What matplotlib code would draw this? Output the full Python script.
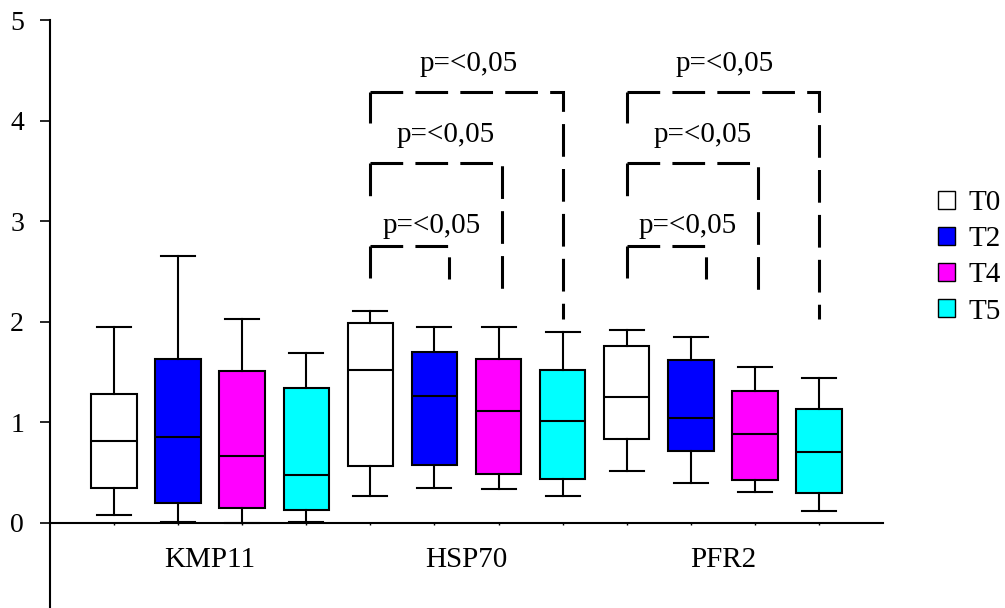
import numpy as np
import matplotlib
matplotlib.use('Agg')
import matplotlib.pyplot as plt
from matplotlib.patches import Patch

plt.rcParams['font.family'] = ['Liberation Serif', 'DejaVu Serif']

# data
groups = ['KMP11', 'HSP70', 'PFR2']
series = ['T0', 'T2', 'T4', 'T5']
colors = ['#FFFFFF', '#0000FF', '#FF00FF', '#00FFFF']

whis_lo = [[0.08, 0.01, 0.00, 0.01],
           [0.27, 0.35, 0.34, 0.27],
           [0.52, 0.40, 0.31, 0.12]]
q1 = [[0.35, 0.20, 0.15, 0.13],
      [0.57, 0.58, 0.49, 0.44],
      [0.83, 0.72, 0.43, 0.30]]
med = [[0.82, 0.85, 0.67, 0.48],
       [1.52, 1.26, 1.11, 1.01],
       [1.25, 1.04, 0.88, 0.71]]
q3 = [[1.28, 1.63, 1.51, 1.34],
      [1.99, 1.70, 1.63, 1.52],
      [1.76, 1.62, 1.31, 1.13]]
whis_hi = [[1.95, 2.65, 2.03, 1.69],
           [2.11, 1.95, 1.95, 1.90],
           [1.92, 1.85, 1.55, 1.44]]

# significance brackets (right-end offset, top, left foot, right foot, label x offset, label y)
sig_groups = [1, 2]
sig_right = [1.23, 2.05, 3.0]
sig_top = [2.75, 3.58, 4.28]
sig_left_foot = [2.44, 3.14, 3.98]
sig_right_foot = [2.43, 2.25, 2.03]
sig_label_dx = [0.95, 1.18, 1.53]
sig_label_y = [2.88, 3.79, 4.49]
sig_text = 'p=<0,05'

fig = plt.figure(figsize=(10.05, 6.08), dpi=100)
ax = fig.add_axes([50/1005, 0.0, (883-50)/1005, 1 - 20/608])

stats = []
face = []
for g in range(len(groups)):
    for s in range(len(series)):
        stats.append(dict(whislo=whis_lo[g][s], q1=q1[g][s], med=med[g][s],
                          q3=q3[g][s], whishi=whis_hi[g][s], fliers=[]))
        face.append(colors[s])
positions = np.arange(1, len(stats) + 1)

bp = ax.bxp(stats, positions=positions, widths=0.71, capwidths=0.53,
            patch_artist=True, showfliers=False,
            boxprops=dict(linewidth=1.5, edgecolor='black'),
            medianprops=dict(linewidth=1.5, color='black'),
            whiskerprops=dict(linewidth=1.5, color='black'),
            capprops=dict(linewidth=1.5, color='black'))
for patch, c in zip(bp['boxes'], face):
    patch.set_facecolor(c)

# brackets
ls = (0, (10.7, 4))
for g in sig_groups:
    x0 = 1 + g * len(series)
    for k in range(len(sig_top)):
        xr = x0 + sig_right[k]
        ax.plot([x0, x0], [sig_top[k], sig_left_foot[k]], color='black',
                lw=2.2, linestyle=ls)
        ax.plot([x0, xr, xr], [sig_top[k], sig_top[k], sig_right_foot[k]],
                color='black', lw=2.2, linestyle=ls, dash_joinstyle='miter')
        ax.text(x0 + sig_label_dx[k], sig_label_y[k], sig_text, fontsize=21,
                ha='center', va='baseline')

ax.set_xlim(0, 13)
ax.set_ylim(-0.845, 5)
ax.set_yticks([0, 1, 2, 3, 4, 5])
ax.tick_params(axis='y', labelsize=20, length=7.2, width=1.2, pad=11.5)
ax.set_xticks(positions)
ax.set_xticklabels([])
ax.tick_params(axis='x', length=1.5, width=1.0)
ax.spines['top'].set_visible(False)
ax.spines['right'].set_visible(False)
ax.spines['bottom'].set_position(('data', 0))
ax.spines['left'].set_linewidth(1.5)
ax.spines['bottom'].set_linewidth(1.5)

for g, name in enumerate(groups):
    ax.text(2.5 + g * len(series), -0.37, name, fontsize=21, ha='center', va='center')

handles = [Patch(facecolor=c, edgecolor='black', linewidth=1.0) for c in colors]
fig.legend(handles, series, loc='upper left', bbox_to_anchor=(938/1005, 1 - 190/608),
           frameon=False, fontsize=21, handlelength=0.58, handleheight=0.58,
           handletextpad=0.45, labelspacing=0.35, borderpad=0, borderaxespad=0)

fig.savefig('out.png', dpi=100)
